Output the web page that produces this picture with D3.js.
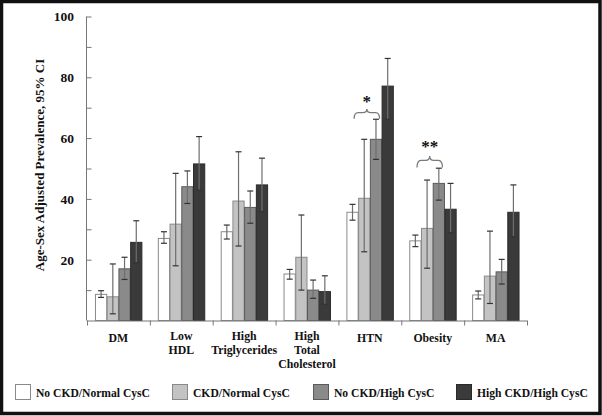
<!DOCTYPE html>
<html><head><meta charset="utf-8">
<script src="https://cdn.jsdelivr.net/npm/d3@7"></script>
<style>
html,body{margin:0;padding:0;background:#fff;}
svg{display:block;}
text{font-family:"Liberation Serif","Times New Roman",serif;font-weight:bold;fill:#111;}
</style></head>
<body>
<svg id="chart" width="602" height="416"></svg>
<script>
// ---- data ----
const categories = ["DM", "Low\nHDL", "High\nTriglycerides", "High\nTotal\nCholesterol", "HTN", "Obesity", "MA"];
const seriesNames = ["No CKD/Normal CysC", "CKD/Normal CysC", "No CKD/High CysC", "High CKD/High CysC"];
const noCkdNormal      = [8.6, 27.0, 29.2, 15.3, 35.6, 26.2, 8.4];
const noCkdNormalLow   = [7.6, 25.4, 26.8, 13.6, 33.0, 24.3, 7.1];
const noCkdNormalHigh  = [9.8, 29.2, 31.4, 16.8, 38.2, 28.1, 9.7];
const ckdNormal        = [7.8, 31.7, 39.3, 20.8, 40.2, 30.3, 14.6];
const ckdNormalLow     = [2.2, 18.0, 24.5, 10.0, 22.6, 17.2, 5.6];
const ckdNormalHigh    = [18.6, 48.4, 55.5, 34.7, 59.6, 46.2, 29.4];
const noCkdHigh        = [17.0, 44.0, 37.2, 10.0, 59.6, 45.1, 16.0];
const noCkdHighLow     = [13.5, 38.5, 32.0, 7.3, 53.0, 39.6, 12.0];
const noCkdHighHigh    = [20.8, 49.2, 42.6, 13.3, 66.2, 50.1, 20.1];
const highCkdHigh      = [25.7, 51.5, 44.6, 9.5, 77.1, 36.6, 35.6];
const highCkdHighLow   = [19.0, 42.9, 35.8, 5.3, 66.2, 28.9, 27.6];
const highCkdHighHigh  = [32.8, 60.5, 53.4, 14.7, 86.2, 45.1, 44.6];
const yTickValues = [10, 20, 30, 40, 50, 60, 70, 80, 90, 100];
const yTickLabels = ["", "20", "", "40", "", "60", "", "80", "", "100"];
const yAxisTitle = "Age-Sex Adjusted Prevalence, 95% CI";
// significance braces: category, label, brace end value, brace tip value, label value
const braceCats   = ["HTN", "Obesity"];
const braceLabels = ["*", "**"];
const braceBase   = [66.4, 50.3];
const braceTip    = [69.6, 54.1];
const braceText   = [72.6, 57.8];

// ---- styles ----
const fills   = ["#ffffff", "#c3c3c3", "#8a8a8a", "#3a3a3a"];
const strokes = ["#8a8a8a", "#8a8a8a", "#5a5a5a", "#2a2a2a"];

const values = [noCkdNormal, ckdNormal, noCkdHigh, highCkdHigh];
const lows   = [noCkdNormalLow, ckdNormalLow, noCkdHighLow, highCkdHighLow];
const highs  = [noCkdNormalHigh, ckdNormalHigh, noCkdHighHigh, highCkdHighHigh];
const rows = [];
categories.forEach((c, ci) => seriesNames.forEach((s, si) => {
  rows.push({cat: c, ser: s, si, v: values[si][ci], lo: lows[si][ci], hi: highs[si][ci]});
}));

const svg = d3.select("#chart");
// outer frame
svg.append("rect").attr("x", 1.5).attr("y", 1.5).attr("width", 598.5).attr("height", 412)
  .attr("fill", "#fff").attr("stroke", "#111").attr("stroke-width", 3.5);

const x0 = d3.scaleBand().domain(categories).range([87, 527]).padding(0);
const x1 = d3.scaleBand().domain(seriesNames).range([0, x0.bandwidth()]).paddingInner(0).paddingOuter(0.68);
const y = d3.scaleLinear().domain([0, 100]).range([320.5, 16.5]);

// bars
const g = svg.append("g");
g.selectAll("rect.bar").data(rows).join("rect").attr("class", "bar")
  .attr("x", d => x0(d.cat) + x1(d.ser) + 0.5)
  .attr("y", d => y(d.v))
  .attr("width", x1.bandwidth() - 0.5)
  .attr("height", d => y(0) - y(d.v))
  .attr("fill", d => fills[d.si])
  .attr("stroke", d => strokes[d.si]).attr("stroke-width", 1);

// error bars
const cx = d => x0(d.cat) + x1(d.ser) + x1.bandwidth() / 2 + 0.25;
const eb = g.selectAll("g.err").data(rows).join("g").attr("class", "err");
eb.append("line").attr("x1", cx).attr("x2", cx).attr("y1", d => y(d.lo)).attr("y2", d => y(d.hi))
  .attr("stroke", "#6e6e6e").attr("stroke-width", 1.2);
eb.append("line").attr("x1", d => cx(d) - 3).attr("x2", d => cx(d) + 3).attr("y1", d => y(d.hi)).attr("y2", d => y(d.hi))
  .attr("stroke", "#333").attr("stroke-width", 1.2);
eb.append("line").attr("x1", d => cx(d) - 3).attr("x2", d => cx(d) + 3).attr("y1", d => y(d.lo)).attr("y2", d => y(d.lo))
  .attr("stroke", "#333").attr("stroke-width", 1.2);

// y axis
const yAxis = d3.axisRight(y).tickValues(yTickValues).tickSize(5).tickFormat("");
const ya = svg.append("g").attr("transform", "translate(86.5,0)").call(yAxis);
ya.select(".domain").attr("stroke", "#777").attr("d", `M0,${y(100)}V${y(0)}`);
ya.selectAll(".tick line").attr("stroke", "#777");
svg.append("g").selectAll("text").data(yTickValues).join("text")
  .attr("x", 74).attr("y", d => y(d) + 4.8).attr("text-anchor", "end")
  .style("font-size", "13.5px").text((d, i) => yTickLabels[i]);

// x axis
const bounds = categories.map(c => x0(c)).concat([x0.range()[1]]);
svg.append("line").attr("x1", 87).attr("x2", 527).attr("y1", y(0) + 0.5).attr("y2", y(0) + 0.5).attr("stroke", "#777");
svg.append("g").selectAll("line").data(bounds).join("line")
  .attr("x1", d => d + 0.5).attr("x2", d => d + 0.5).attr("y1", y(0)).attr("y2", y(0) + 5).attr("stroke", "#777");
const cl = svg.append("g").selectAll("text").data(categories).join("text")
  .attr("text-anchor", "middle").style("font-size", "11.8px")
  .attr("transform", d => `translate(${x0(d) + x0.bandwidth() / 2},${d.includes("\n") ? 340 : 342})`);
cl.selectAll("tspan").data(d => d.split("\n")).join("tspan")
  .attr("x", 0).attr("dy", (d, i) => i === 0 ? 0 : 14).text(d => d);

// y title
svg.append("text").attr("transform", `translate(44,${165}) rotate(-90)`).attr("text-anchor", "middle")
  .style("font-size", "13px").text(yAxisTitle);

// braces
braceCats.forEach((c, i) => {
  const xl = x0(c) + x1(seriesNames[1]) - 4;
  const xr = x0(c) + x1(seriesNames[2]) + x1.bandwidth() - 2;
  const xm = (xl + xr) / 2;
  const yb = y(braceBase[i]), yt = y(braceTip[i]);
  const ym = yb - (yb - yt) * 0.62;
  const r = 4;
  const p = `M${xl},${yb} Q${xl},${ym} ${xl + r},${ym} L${xm - r},${ym} Q${xm},${ym} ${xm},${yt} Q${xm},${ym} ${xm + r},${ym} L${xr - r},${ym} Q${xr},${ym} ${xr},${yb}`;
  svg.append("path").attr("d", p).attr("fill", "none").attr("stroke", "#7a7a7a").attr("stroke-width", 1.3);
  svg.append("text").attr("x", xm).attr("y", y(braceText[i]) + 7).attr("text-anchor", "middle")
    .style("font-size", "17px").text(braceLabels[i]);
});

// legend
const legendX = [15, 172, 313, 456];
const lg = svg.append("g").selectAll("g").data(seriesNames).join("g")
  .attr("transform", (d, i) => `translate(${legendX[i]},384)`);
lg.append("rect").attr("x", 0.5).attr("y", 0.5).attr("width", 15).attr("height", 15)
  .attr("fill", (d, i) => fills[i]).attr("stroke", (d, i) => strokes[i]);
lg.append("text").attr("x", 21).attr("y", 13).style("font-size", "11.6px").text(d => d);
</script>
</body></html>
